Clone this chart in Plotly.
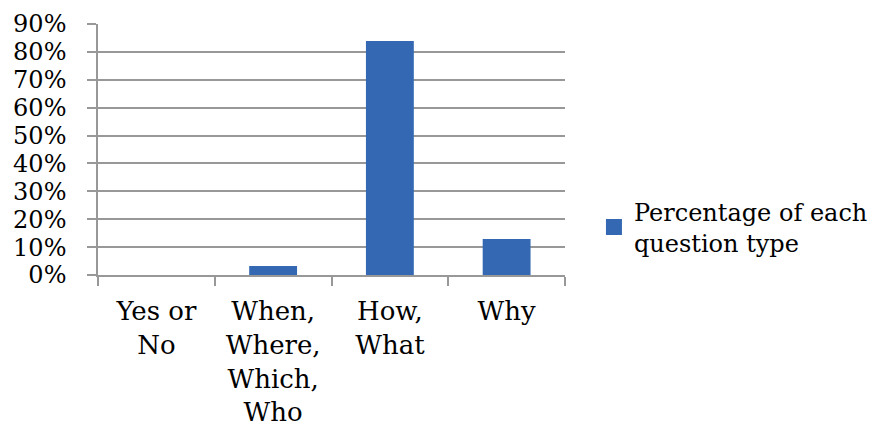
import plotly.graph_objects as go

# Share of each question type
categories = ["Yes or<br>No", "When,<br>Where,<br>Which,<br>Who", "How,<br>What", "Why"]
shares = [0.0, 0.032, 0.839, 0.129]
series_name = "Percentage of each<br>question type"

y_ticks = [i / 10 for i in range(10)]
y_tick_text = [f"{i * 10}%" for i in range(10)]

BAR_BLUE = "#3468b2"
GRID = "#989898"
FONT = "DejaVu Serif"

fig = go.Figure()
fig.add_trace(go.Bar(
    x=categories, y=shares, marker=dict(color=BAR_BLUE, line=dict(width=0)),
    showlegend=False, width=0.41,
))
# legend entry with a larger square swatch
fig.add_trace(go.Scatter(
    x=[None], y=[None], mode="markers", name=series_name,
    marker=dict(symbol="square", size=16, color=BAR_BLUE),
))

fig.update_layout(
    width=876, height=437,
    margin=dict(l=98, r=311, t=24, b=162, autoexpand=False),
    paper_bgcolor="white", plot_bgcolor="white",
    font=dict(family=FONT, size=24, color="black"),
    legend=dict(x=1.062, y=0.19, xanchor="left", yanchor="middle",
                font=dict(family=FONT, size=24), itemwidth=30, tracegroupgap=0),
    bargap=0.59,
)
fig.update_xaxes(
    showline=True, linecolor=GRID, linewidth=1.5,
    ticks="outside", ticklen=9, tickcolor=GRID, tickwidth=1.5,
    tickson="boundaries", showgrid=False,
    tickfont=dict(family=FONT, size=26), ticklabelstandoff=12,
)
fig.update_yaxes(
    range=[0, 0.9], tickvals=y_ticks + [0.9], ticktext=y_tick_text + ["90%"],
    showline=True, linecolor=GRID, linewidth=1.5,
    ticks="outside", ticklen=9, tickcolor=GRID, tickwidth=1.5,
    showgrid=True, gridcolor=GRID, gridwidth=1.5, zeroline=False,
    tickfont=dict(family=FONT, size=24), ticklabelstandoff=16,
)

fig.write_html("out.html")
